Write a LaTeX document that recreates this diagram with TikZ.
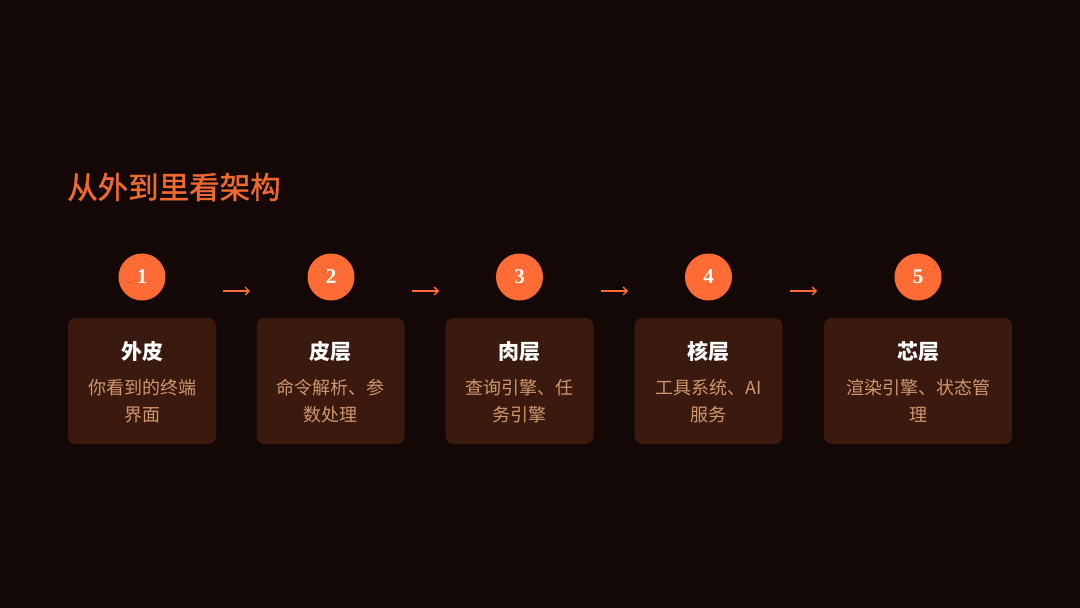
\documentclass[tikz,border=0pt]{standalone}
\usepackage{fontspec}
\newfontfamily\cjk{Noto Sans CJK SC}
\newfontfamily\cjkmed[FakeBold=1.2]{Noto Sans CJK SC}
\newfontfamily\numfont{Liberation Serif}
\usetikzlibrary{arrows.meta}
\definecolor{bgc}{HTML}{140806}
\definecolor{boxc}{HTML}{3A1A0E}
\definecolor{orc}{HTML}{FF6B35}
\definecolor{titc}{HTML}{F06A30}
\definecolor{descc}{HTML}{CF966E}
\begin{document}
\begin{tikzpicture}[x=1pt,y=-1pt,
  layerbox/.style={fill=boxc,rounded corners=8pt,minimum height=126pt,inner sep=0pt},
  numcirc/.style={circle,fill=orc,minimum size=47pt,inner sep=0pt,text=white,font=\numfont\bfseries\fontsize{21}{21}\selectfont},
  boxtitle/.style={text=white,font=\cjk\bfseries\fontsize{21}{24}\selectfont,inner sep=0pt},
  boxdesc/.style={text=descc,font=\cjk\fontsize{18}{27.5}\selectfont,align=center,inner sep=0pt},
  flow/.style={draw=orc,line width=1.3pt,-{Straight Barb[length=4pt,width=8pt]}}
]
\fill[bgc] (0,0) rectangle (1080,608);
\useasboundingbox (0,0) rectangle (1080,608);
\node[anchor=west,text=titc,font=\cjkmed\fontsize{30.5}{32}\selectfont,inner sep=0pt] (title) at (67,187) {从外到里看架构};
% boxes
\node[layerbox,minimum width=148pt] (b1) at (142,381) {};
\node[layerbox,minimum width=148pt] (b2) at (330.5,381) {};
\node[layerbox,minimum width=148pt] (b3) at (519.5,381) {};
\node[layerbox,minimum width=148pt] (b4) at (708.5,381) {};
\node[layerbox,minimum width=188pt] (b5) at (918,381) {};
% circles
\node[numcirc] (c1) at (142,277) {1};
\node[numcirc] (c2) at (331,277) {2};
\node[numcirc] (c3) at (519.5,277) {3};
\node[numcirc] (c4) at (708.5,277) {4};
\node[numcirc] (c5) at (918,277) {5};
% titles
\node[boxtitle] (t1) at (142,352) {外皮};
\node[boxtitle] (t2) at (330.5,352) {皮层};
\node[boxtitle] (t3) at (519.5,352) {肉层};
\node[boxtitle] (t4) at (708.5,352) {核层};
\node[boxtitle] (t5) at (918,352) {芯层};
% descriptions
\node[boxdesc] (d1) at (142,401) {你看到的终端\\界面};
\node[boxdesc] (d2) at (330.5,401) {命令解析、参\\数处理};
\node[boxdesc] (d3) at (519.5,401) {查询引擎、任\\务引擎};
\node[boxdesc] (d4) at (708.5,401) {工具系统、AI\\服务};
\node[boxdesc] (d5) at (918,401) {渲染引擎、状态管\\理};
% arrows
\coordinate (a1s) at (223,291); \coordinate (a1e) at (250,291);
\coordinate (a2s) at (412,291); \coordinate (a2e) at (439,291);
\coordinate (a3s) at (601,291); \coordinate (a3e) at (628,291);
\coordinate (a4s) at (790,291); \coordinate (a4e) at (817,291);
\draw[flow] (a1s) -- (a1e);
\draw[flow] (a2s) -- (a2e);
\draw[flow] (a3s) -- (a3e);
\draw[flow] (a4s) -- (a4e);
\end{tikzpicture}
\end{document}
